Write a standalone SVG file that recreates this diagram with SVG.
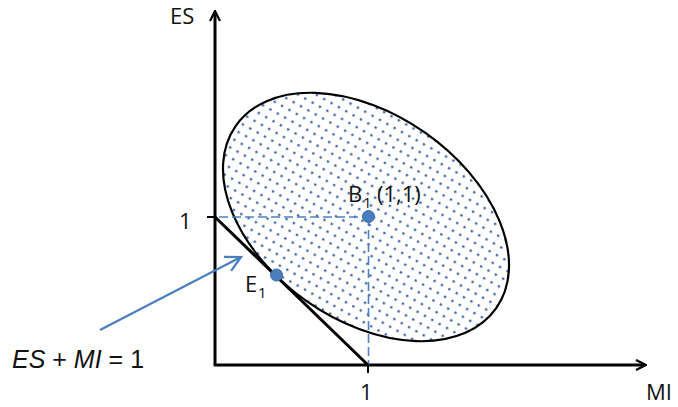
<svg xmlns="http://www.w3.org/2000/svg" width="678" height="407" viewBox="0 0 678 407">
<style>
.t{font-family:"Open Sans","Liberation Sans",sans-serif;font-size:22px;fill:#111}
.s{font-size:15px}
.eq{font-family:"Liberation Sans",Arial,sans-serif;font-size:25px;fill:#111}
.ax{stroke:#000;stroke-width:3;fill:none}
.dash{stroke:#4f81bd;stroke-width:1.6;stroke-dasharray:9,4;fill:none}
.pt{fill:#4a7ebf;stroke:#3a6aa8;stroke-width:1}
</style>
<defs>
<marker id="ah" viewBox="0 0 12 12" refX="10" refY="6" markerWidth="12" markerHeight="12" markerUnits="userSpaceOnUse" orient="auto">
<path d="M1,1 L11,6 L1,11" fill="none" stroke="#000" stroke-width="2.2"/>
</marker>
<marker id="bh" viewBox="0 0 16 16" refX="14.5" refY="8" markerWidth="18" markerHeight="18" markerUnits="userSpaceOnUse" orient="auto">
<path d="M1,1 L14.5,8 L1,15" fill="none" stroke="#4a7ebf" stroke-width="2"/>
</marker>
<pattern id="dots" width="8.4" height="8.8" patternUnits="userSpaceOnUse" patternTransform="rotate(-6)">
<circle cx="4" cy="4" r="1.35" fill="#3f6aa8"/>
</pattern>
</defs>
<g id="ellipse">
<ellipse cx="366" cy="217" rx="159" ry="103" transform="rotate(35 366 217)" fill="url(#dots)" stroke="#000" stroke-width="2.2"/>
</g>
<g id="connectors">
<line class="ax" x1="215" y1="366" x2="215" y2="12" marker-end="url(#ah)"/>
<line class="ax" x1="214" y1="365" x2="645" y2="365" marker-end="url(#ah)"/>
<line x1="207" y1="217" x2="215" y2="217" stroke="#000" stroke-width="2"/>
<line x1="368" y1="365" x2="368" y2="373" stroke="#000" stroke-width="2"/>
<line class="dash" x1="219" y1="217" x2="368" y2="217"/>
<line class="dash" x1="368.5" y1="217" x2="368.5" y2="365"/>
<line x1="215" y1="217" x2="368" y2="365" stroke="#000" stroke-width="3"/>
<line x1="100" y1="330" x2="241" y2="257" stroke="#4a7ebf" stroke-width="2.2" marker-end="url(#bh)"/>
</g>
<g id="labels">
<text class="t" x="170" y="23.5">ES</text>
<text class="t" x="179" y="229">1</text>
<text class="t" x="360" y="400">1</text>
<text class="t" x="646" y="400">MI</text>
</g>
<g id="B1">
<circle class="pt" cx="368.5" cy="216.5" r="6"/>
<text class="t" x="348" y="202">B</text>
<text class="t s" x="363" y="208">1</text>
<text class="t" x="377" y="202">(1,1)</text>
</g>
<g id="E1">
<circle class="pt" cx="276.5" cy="275" r="6"/>
<text class="t" x="245" y="291.5">E</text>
<text class="t s" x="258" y="298">1</text>
</g>
<g id="equation">
<text class="eq" x="12" y="368"><tspan font-style="italic">ES</tspan> + <tspan font-style="italic">MI</tspan> = 1</text>
</g>
</svg>
